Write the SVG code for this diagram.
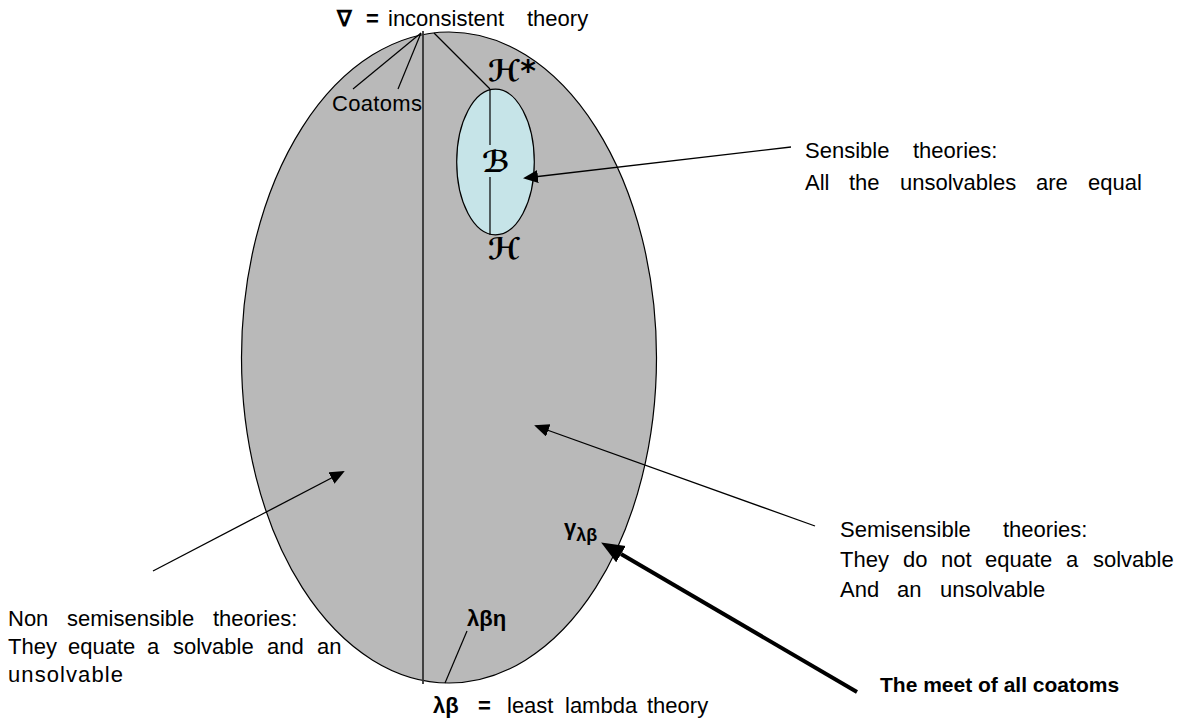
<svg xmlns="http://www.w3.org/2000/svg" width="1178" height="725" viewBox="0 0 1178 725">
<style>
text{font-family:"Liberation Sans",Arial,sans-serif;font-size:22px;fill:#000}
.b{font-weight:bold}
.scr{font-family:"DejaVu Sans","DejaVu Serif",serif;font-style:italic;font-weight:bold;font-size:30px}
.ln{stroke:#000;stroke-width:1.2;fill:none}
.ax{stroke:#000;stroke-width:1.3;fill:none;marker-end:url(#ah)}
</style>
<defs>
<marker id="ah" markerUnits="userSpaceOnUse" markerWidth="16" markerHeight="14" refX="13" refY="6.5" orient="auto"><path d="M0,0 L15,6.5 L0,13 z" fill="#000"/></marker>
<marker id="ahb" markerUnits="userSpaceOnUse" markerWidth="24" markerHeight="20" refX="0" refY="9.5" orient="auto"><path d="M0,0 L23,9.5 L0,19 z" fill="#000"/></marker>
</defs>
<g id="lattice">
<ellipse cx="449" cy="357.5" rx="207.5" ry="325.5" fill="#b9b9b9" stroke="#000" stroke-width="1.2"/>
</g>
<g id="sensible-region">
<ellipse cx="495.5" cy="162" rx="38.8" ry="72.8" fill="#c6e4e8" stroke="#000" stroke-width="1.2"/>
</g>
<g id="connectors">
<line class="ln" x1="423" y1="31" x2="423" y2="684" style="stroke:#333;stroke-width:1.8"/>
<line class="ln" x1="421" y1="33" x2="353" y2="89"/>
<line class="ln" x1="421" y1="33" x2="398" y2="89"/>
<line class="ln" x1="434" y1="33" x2="490" y2="89"/>
<line class="ln" x1="490" y1="89" x2="490" y2="145"/>
<line class="ln" x1="490" y1="177" x2="490" y2="235"/>
<line class="ln" x1="467" y1="631" x2="445" y2="683"/>
<line class="ax" x1="791" y1="147" x2="525" y2="178"/>
<line class="ax" x1="815" y1="526" x2="536" y2="426"/>
<line class="ax" x1="153" y1="571" x2="343" y2="472"/>
<line x1="857" y1="692" x2="621" y2="554.1" stroke="#000" stroke-width="4" marker-end="url(#ahb)"/>
</g>
<g id="top-label">
<text y="26"><tspan x="337" class="b">∇</tspan><tspan x="366" class="b">=</tspan><tspan x="388">inconsistent</tspan><tspan x="527">theory</tspan></text>
</g>
<g id="coatoms-label"><text x="332" y="111" textLength="90">Coatoms</text></g>
<g id="hstar-label"><text class="scr" x="488" y="81">ℋ*</text></g>
<g id="b-label"><text class="scr" x="496" y="172" text-anchor="middle">ℬ</text></g>
<g id="h-label"><text class="scr" x="488" y="259">ℋ</text></g>
<g id="gamma-label"><text class="b" x="564" y="535" style="font-size:22px">γ<tspan style="font-size:18px" dy="6">λβ</tspan></text></g>
<g id="lbe-label"><text class="b" x="467" y="626">λβη</text></g>
<g id="bottom-label">
<text y="713"><tspan x="433" class="b">λβ</tspan><tspan x="478" class="b">=</tspan><tspan x="507">least</tspan><tspan x="565">lambda</tspan><tspan x="647">theory</tspan></text>
</g>
<g id="sensible-text">
<text y="158"><tspan x="805">Sensible</tspan><tspan x="913">theories:</tspan></text>
<text y="190"><tspan x="805">All</tspan><tspan x="849">the</tspan><tspan x="900">unsolvables</tspan><tspan x="1036">are</tspan><tspan x="1088">equal</tspan></text>
</g>
<g id="semisensible-text">
<text y="537"><tspan x="840">Semisensible</tspan><tspan x="1003">theories:</tspan></text>
<text y="567"><tspan x="840">They</tspan><tspan x="903">do</tspan><tspan x="941">not</tspan><tspan x="985">equate</tspan><tspan x="1066">a</tspan><tspan x="1093">solvable</tspan></text>
<text y="597"><tspan x="840">And</tspan><tspan x="897">an</tspan><tspan x="940">unsolvable</tspan></text>
</g>
<g id="nonsemisensible-text">
<text y="626"><tspan x="8">Non</tspan><tspan x="67">semisensible</tspan><tspan x="213">theories:</tspan></text>
<text y="654"><tspan x="8">They</tspan><tspan x="68">equate</tspan><tspan x="147">a</tspan><tspan x="173">solvable</tspan><tspan x="267">and</tspan><tspan x="317">an</tspan></text>
<text y="682" x="8" textLength="115">unsolvable</text>
</g>
<g id="meet-label"><text class="b" x="880" y="692" style="font-size:21px">The meet of all coatoms</text></g>
</svg>
